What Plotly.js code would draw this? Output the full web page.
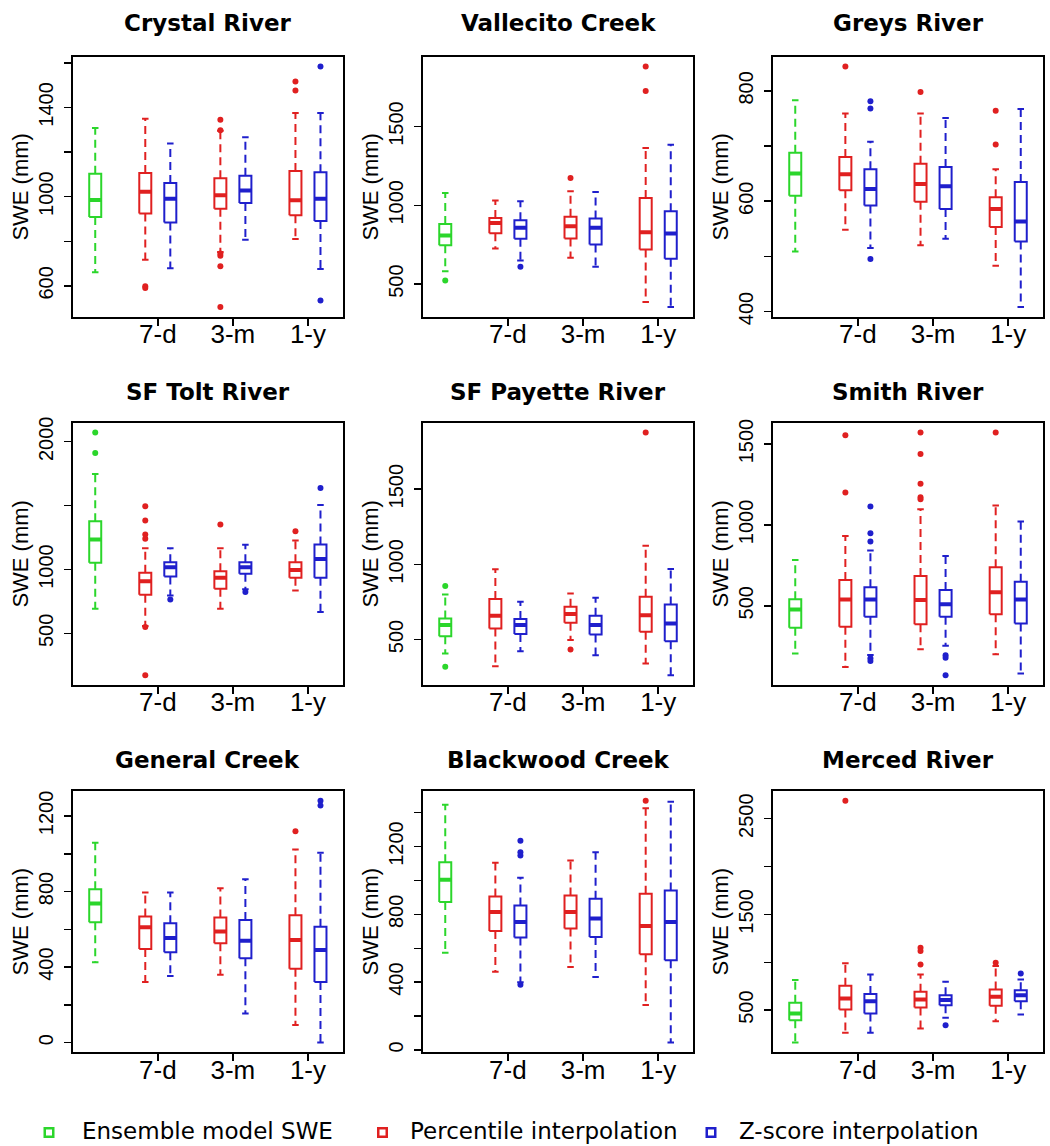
<!DOCTYPE html>
<html>
<head>
<meta charset="utf-8">
<script src="https://cdn.plot.ly/plotly-3.0.1.min.js"></script>
<style>
  html, body { margin: 0; padding: 0; background: #ffffff; }
  #chart { width: 1050px; height: 1146px; }
</style>
</head>
<body>
<div id="chart"></div>
<script>
// ---------------- DATA ----------------
const sites = ["Crystal River", "Vallecito Creek", "Greys River",
               "SF Tolt River", "SF Payette River", "Smith River",
               "General Creek", "Blackwood Creek", "Merced River"];

const seriesNames = ["Ensemble model SWE", "Percentile interpolation", "Z-score interpolation"];
const seriesColors = ["#2bd62b", "#e02020", "#1f1fcc"];

// 7 boxes per panel: ensemble, then percentile / z-score for 7-d, 3-m, 1-y
const boxPositions = [1, 3, 4, 6, 7, 9, 10];
const boxSeries    = [0, 1, 2, 1, 2, 1, 2];
const periodLabels = ["7-d", "3-m", "1-y"];
const periodPositions = [3.5, 6.5, 9.5];

const lowerWhisker = [
  [661, 717, 679, 752, 807, 810, 676],
  [582, 726, 650, 667, 610, 386, 354],
  [509, 548, 515, 520, 532, 483, 408],
  [693, 557, 797, 693, 845, 836, 667],
  [407, 322, 422, 496, 396, 340, 262],
  [205, 122, 195, 231, 252, 200, 81],
  [426, 321, 353, 360, 154, 93, 0],
  [573, 461, 400, 490, 431, 265, 43],
  [161, 263, 263, 308, 420, 385, 455]
];
const quartile1 = [
  [909, 924, 884, 946, 972, 917, 891],
  [747, 823, 787, 789, 751, 719, 660],
  [610, 620, 592, 599, 586, 553, 527],
  [1052, 802, 945, 849, 966, 935, 935],
  [522, 573, 536, 611, 533, 551, 489],
  [364, 370, 432, 386, 432, 448, 391],
  [637, 496, 479, 526, 447, 391, 321],
  [873, 702, 663, 716, 667, 565, 529],
  [395, 507, 465, 528, 552, 545, 594]
];
const medians = [
  [985, 1022, 991, 1006, 1028, 984, 991],
  [808, 888, 857, 867, 857, 829, 821],
  [650, 649, 622, 631, 627, 586, 563],
  [1234, 909, 1018, 935, 1018, 997, 1083],
  [596, 658, 596, 669, 596, 662, 607],
  [477, 539, 539, 535, 510, 583, 539],
  [737, 611, 554, 589, 540, 544, 491],
  [1004, 814, 755, 814, 775, 731, 755],
  [465, 622, 594, 612, 605, 640, 657]
];
const quartile3 = [
  [1103, 1106, 1061, 1083, 1094, 1115, 1109],
  [882, 920, 905, 928, 916, 1046, 962],
  [688, 680, 658, 668, 662, 607, 635],
  [1378, 974, 1057, 987, 1057, 1057, 1195],
  [640, 769, 636, 718, 658, 784, 733],
  [541, 659, 614, 684, 597, 738, 649],
  [812, 668, 632, 663, 649, 675, 614],
  [1108, 906, 853, 912, 892, 922, 941],
  [577, 755, 668, 692, 657, 716, 709]
];
const upperWhisker = [
  [1308, 1349, 1238, 1295, 1266, 1375, 1375],
  [1078, 1030, 1025, 1089, 1084, 1363, 1384],
  [783, 759, 708, 759, 751, 658, 767],
  [1747, 1167, 1167, 1167, 1193, 1227, 1505],
  [800, 967, 751, 807, 778, 1124, 969],
  [783, 932, 841, 1097, 808, 1120, 1021],
  [1058, 795, 795, 818, 865, 1023, 1005],
  [1447, 1104, 1016, 1118, 1167, 1427, 1465],
  [814, 989, 873, 873, 797, 961, 821]
];
const outlierValues = [
  [[], [590, 598], [], [1298, 1345, 745, 735, 688, 505], [], [1476, 1516], [1583, 535]],
  [[523], [], [610], [1173], [], [1880, 1726], []],
  [[], [844], [781, 768, 495], [798], [], [764, 703], []],
  [[2073, 1911], [1495, 1383, 1273, 1240, 550, 172], [766], [1352], [823], [1299], [1638]],
  [[856, 318], [], [], [433], [], [1878], []],
  [[], [1200, 1554], [1114, 948, 897, 175, 158], [1171, 1159, 1254, 1438, 1572], [194, 178, 70], [1572], []],
  [[], [], [], [], [], [1119], [1281, 1256]],
  [[], [], [1235, 1167, 1147, 385], [], [], [1471], []],
  [[], [2688], [], [1153, 1118, 978], [343], [996], [884]]
];

const yTickValues = [
  [600, 800, 1000, 1200, 1400, 1600],
  [500, 1000, 1500],
  [400, 500, 600, 700, 800],
  [500, 1000, 1500, 2000],
  [500, 1000, 1500],
  [500, 1000, 1500],
  [0, 200, 400, 600, 800, 1000, 1200],
  [0, 200, 400, 600, 800, 1000, 1200, 1400],
  [500, 1000, 1500, 2000, 2500]
];
const yTickLabels = [
  ["600", "", "1000", "", "1400", ""],
  ["500", "1000", "1500"],
  ["400", "", "600", "", "800"],
  ["500", "1000", "", "2000"],
  ["500", "1000", "1500"],
  ["500", "1000", "1500"],
  ["0", "", "400", "", "800", "", "1200"],
  ["0", "", "400", "", "800", "", "1200", ""],
  ["500", "", "1500", "", "2500"]
];
const yAxisTitle = "SWE (mm)";

// ---------------- STYLE / LAYOUT ----------------
const W = 1050, H = 1146;
const colPx = [[72.7, 343], [422.7, 693.3], [772.7, 1043.3]];
const rowPx = [[57, 316.7], [422.7, 685], [791, 1052.3]];
const titlePx = [23, 391.7, 760];
const BOX_HALF = 0.24, CAP_HALF = 0.13;
const FONT = "Liberation Sans, Arial, Helvetica, sans-serif";
const TITLE_FONT = "DejaVu Sans, Liberation Sans, sans-serif";

const traces = [];
const layout = {
  width: W, height: H,
  margin: {l: 0, r: 0, t: 0, b: 0},
  paper_bgcolor: "#ffffff", plot_bgcolor: "#ffffff",
  showlegend: false,
  font: {family: FONT, color: "#000"},
  annotations: [], shapes: []
};

sites.forEach((site, s) => {
  const ax = s + 1;
  const xa = "x" + (ax === 1 ? "" : ax), ya = "y" + (ax === 1 ? "" : ax);
  const r = Math.floor(s / 3), c = s % 3;

  for (let g = 0; g < 3; g++) {
    const wx = [], wy = [], cx = [], cy = [], bx = [], by = [], mx = [], my = [], ox = [], oy = [];
    boxPositions.forEach((p, k) => {
      if (boxSeries[k] !== g) return;
      wx.push(p, p, null, p, p, null);
      wy.push(quartile3[s][k], upperWhisker[s][k], null, quartile1[s][k], lowerWhisker[s][k], null);
      cx.push(p - CAP_HALF, p + CAP_HALF, null, p - CAP_HALF, p + CAP_HALF, null);
      cy.push(upperWhisker[s][k], upperWhisker[s][k], null, lowerWhisker[s][k], lowerWhisker[s][k], null);
      bx.push(p - BOX_HALF, p + BOX_HALF, p + BOX_HALF, p - BOX_HALF, p - BOX_HALF, null);
      by.push(quartile1[s][k], quartile1[s][k], quartile3[s][k], quartile3[s][k], quartile1[s][k], null);
      mx.push(p - BOX_HALF, p + BOX_HALF, null);
      my.push(medians[s][k], medians[s][k], null);
      outlierValues[s][k].forEach(v => { ox.push(p); oy.push(v); });
    });
    const col = seriesColors[g];
    const base = {type: "scatter", xaxis: xa, yaxis: ya, hoverinfo: "skip", name: seriesNames[g]};
    traces.push(Object.assign({}, base, {x: wx, y: wy, mode: "lines", line: {color: col, width: 2, dash: "8px,5px"}}));
    traces.push(Object.assign({}, base, {x: cx, y: cy, mode: "lines", line: {color: col, width: 2}}));
    traces.push(Object.assign({}, base, {x: bx, y: by, mode: "lines", line: {color: col, width: 2}}));
    traces.push(Object.assign({}, base, {x: mx, y: my, mode: "lines", line: {color: col, width: 4}}));
    traces.push(Object.assign({}, base, {x: ox, y: oy, mode: "markers", marker: {color: col, size: 6}}));
  }

  // data range +4% (R style)
  const all = [];
  for (let k = 0; k < 7; k++) {
    all.push(lowerWhisker[s][k], upperWhisker[s][k], ...outlierValues[s][k]);
  }
  const lo = Math.min(...all), hi = Math.max(...all), pad = 0.04 * (hi - lo);

  const common = {
    showline: true, mirror: true, linecolor: "#000", linewidth: 2,
    ticks: "outside", ticklen: 7, tickwidth: 1.5, tickcolor: "#000",
    showgrid: false, zeroline: false, fixedrange: true
  };
  layout["xaxis" + (ax === 1 ? "" : ax)] = Object.assign({}, common, {
    domain: [colPx[c][0] / W, colPx[c][1] / W],
    anchor: ya, range: [0.1, 10.9],
    tickmode: "array", tickvals: periodPositions, ticktext: periodLabels,
    tickfont: {family: FONT, size: 26, color: "#000"}, ticklabelstandoff: -14
  });
  layout["yaxis" + (ax === 1 ? "" : ax)] = Object.assign({}, common, {
    domain: [1 - rowPx[r][1] / H, 1 - rowPx[r][0] / H],
    anchor: xa, range: [lo - pad, hi + pad],
    tickmode: "array", tickvals: yTickValues[s], ticktext: yTickLabels[s],
    tickangle: -90, tickfont: {family: FONT, size: 20, color: "#000"},
    ticklabelstandoff: 3,
    title: {text: yAxisTitle, font: {family: FONT, size: 22, color: "#000"}, standoff: 0}
  });
  layout.annotations.push({
    text: "<b>" + site + "</b>", xref: "paper", yref: "paper",
    x: (colPx[c][0] + colPx[c][1]) / 2 / W, y: 1 - titlePx[r] / H,
    xanchor: "center", yanchor: "middle", showarrow: false,
    font: {family: TITLE_FONT, size: 23, color: "#000"}
  });
});

// legend (bottom)
const legendSquareX = [49, 382.5, 711];
const legendTextX = [80, 408, 737];
const legendY = 1130.5;
seriesNames.forEach((nm, g) => {
  const sz = 8.5;
  layout.shapes.push({
    type: "rect", xref: "paper", yref: "paper",
    x0: (legendSquareX[g] - sz / 2) / W, x1: (legendSquareX[g] + sz / 2) / W,
    y0: 1 - (legendY + 2 + sz / 2) / H, y1: 1 - (legendY + 2 - sz / 2) / H,
    line: {color: seriesColors[g], width: 2.5}, fillcolor: "rgba(0,0,0,0)"
  });
  layout.annotations.push({
    text: nm, xref: "paper", yref: "paper",
    x: legendTextX[g] / W, y: 1 - legendY / H,
    xanchor: "left", yanchor: "middle", showarrow: false,
    font: {family: TITLE_FONT, size: 23, color: "#000"}
  });
});

Plotly.newPlot("chart", traces, layout, {displayModeBar: false, staticPlot: true});
</script>
</body>
</html>
